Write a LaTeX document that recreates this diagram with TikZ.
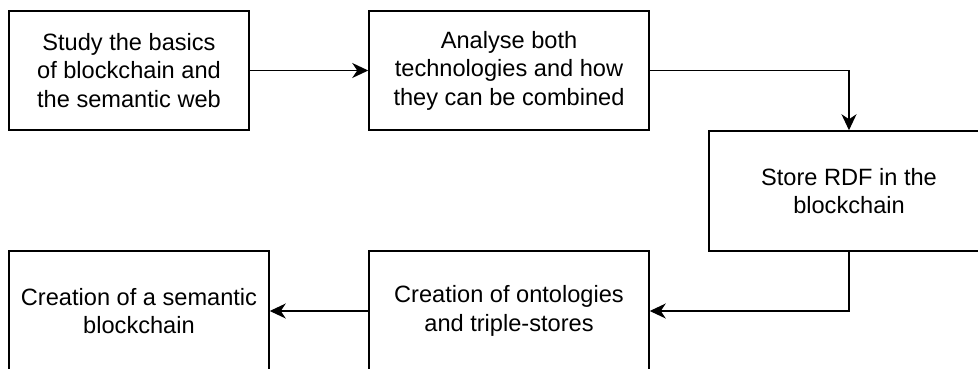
\documentclass[tikz,border=0pt]{standalone}
\usepackage{fontspec}
\setmainfont{Liberation Sans}
\usetikzlibrary{arrows.meta}

\begin{document}
\begin{tikzpicture}[x=1pt,y=-1pt,
  stepbox/.style={draw=black,line width=1.5pt,fill=white,rectangle,inner sep=0pt,
    align=center,font=\fontsize{23.6}{28.4}\selectfont},
  flow/.style={line width=1.5pt,-{Stealth[length=16pt,width=15pt,inset=5pt]}}]
  \useasboundingbox (0,0) rectangle (978,368);
  \clip (0,0) rectangle (978,368);

  \node[stepbox,minimum width=240pt,minimum height=119pt] (study) at (129,70.5)
    {Study the basics\\of blockchain and\\the semantic web};
  \node[stepbox,minimum width=280pt,minimum height=119pt] (analyse) at (509,70.5)
    {Analyse both\\technologies and how\\they can be combined};
  \node[stepbox,minimum width=280pt,minimum height=120pt] (store) at (849,191)
    {Store RDF in the\\blockchain};
  \node[stepbox,minimum width=280pt,minimum height=120pt] (onto) at (509,311)
    {Creation of ontologies\\and triple-stores};
  \node[stepbox,minimum width=260pt,minimum height=120pt] (semchain) at (139,311)
    {Creation of a semantic\\blockchain};

  \draw[flow] (study.east) -- (analyse.west);
  \draw[flow] (analyse.east) -| (store.north);
  \draw[flow] (store.south) |- (onto.east);
  \draw[flow] (onto.west) -- (semchain.east);
\end{tikzpicture}
\end{document}
